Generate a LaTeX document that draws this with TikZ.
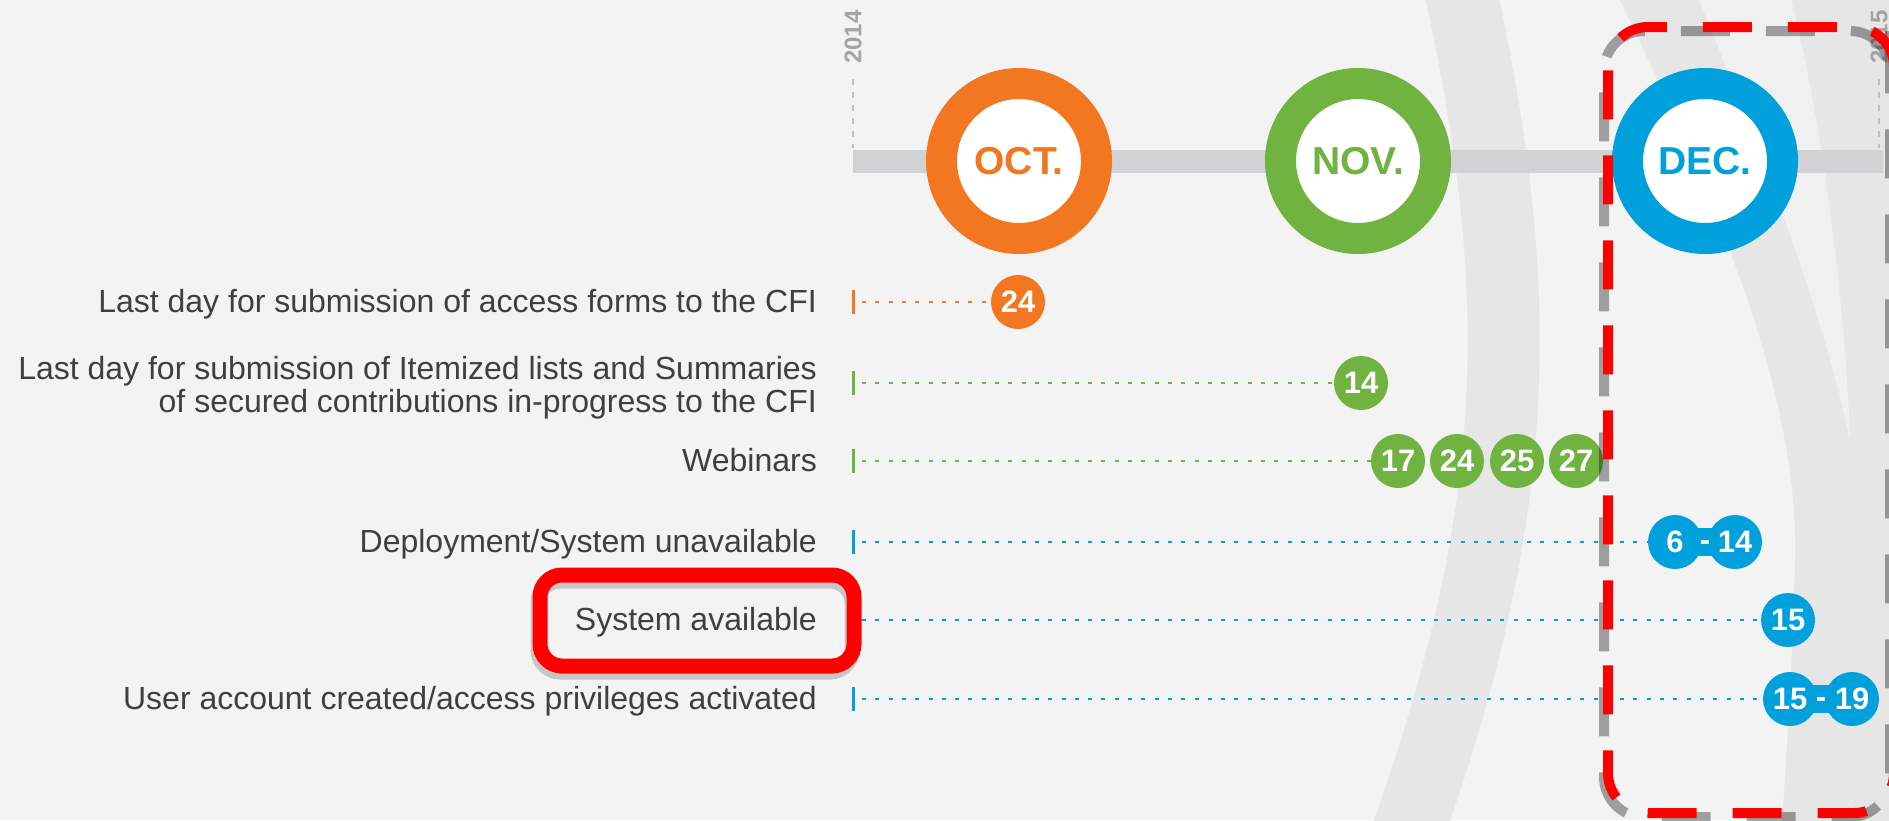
\documentclass[tikz,border=0pt]{standalone}
\usepackage{fontspec}
\setmainfont{Liberation Sans}
\usepackage{xcolor}
\usepackage{tikz}
\usetikzlibrary{backgrounds}
\definecolor{octorange}{HTML}{F37621}
\definecolor{novgreen}{HTML}{70B341}
\definecolor{decblue}{HTML}{00A0DC}
\definecolor{pagegray}{HTML}{F3F3F3}
\definecolor{bandgray}{HTML}{E6E6E7}
\definecolor{stripegray}{HTML}{F0F0F0}
\definecolor{linegray}{HTML}{D1D2D4}
\definecolor{yeargray}{HTML}{A3A3A3}
\definecolor{labelgray}{HTML}{3F3F3F}
\definecolor{markred}{HTML}{FF0000}
\tikzset{
  month ring/.style={
    circle,
    draw=#1,
    line width=31pt,
    fill=white,
    minimum size=155pt,
    inner sep=0pt,
    text=#1,
    font=\fontsize{39}{39}\selectfont\bfseries,
  },
  day badge/.style={
    circle,
    fill=#1,
    minimum size=54pt,
    inner sep=0pt,
    text=white,
    font=\fontsize{31}{31}\selectfont\bfseries,
  },
  badge neck/.style={
    draw=#1,
    line width=28pt,
  },
  range dash/.style={
    inner sep=0pt,
    text=white,
    font=\fontsize{31}{31}\selectfont\bfseries,
  },
  row label/.style={
    anchor=base east,
    inner sep=0pt,
    text=labelgray,
    font=\fontsize{32}{33}\selectfont,
  },
  row tick/.style={
    draw=#1,
    line width=3pt,
  },
  row dots/.style={
    draw=#1,
    line width=2.6pt,
    dash pattern=on 4pt off 9.3pt,
    shorten <=9pt,
  },
  year label/.style={
    rotate=90,
    inner sep=0pt,
    text=yeargray,
    font=\fontsize{24}{24}\selectfont\bfseries,
  },
  year line/.style={
    draw=yeargray!70,
    line width=2.5pt,
    dash pattern=on 6pt off 7pt,
  },
  red frame/.style={
    draw=markred,
    line width=15pt,
    rounded corners=22pt,
  },
  dash frame/.style={
    draw=markred,
    line width=10pt,
    rounded corners=40pt,
    dash pattern=on 49pt off 36pt,
    dash phase=50pt,
  },
}

\begin{document}
\begin{tikzpicture}[x=1pt, y=-1pt]
    \useasboundingbox (0,0) rectangle (1889,820);
    \clip (0,0) rectangle (1889,820);

    \begin{scope}[on background layer]
        \fill[pagegray] (0,0) rectangle (1889,820);
        \draw[line width=72pt, bandgray] (1458,-20) .. controls (1530,300) and (1520,520) .. (1405,840);
        \fill[bandgray] (1618,-5) .. controls (1700,170) and (1800,380) .. (1795,560)
            .. controls (1792,680) and (1786,760) .. (1782,825) -- (1895,825) -- (1895,-5) -- cycle;
        \fill[stripegray] (1697,-5) .. controls (1760,150) and (1820,300) .. (1850,440)
            .. controls (1845,300) and (1822,120) .. (1790,-5) -- cycle;
    \end{scope}

    \coordinate (tl-start) at (853,161);
    \coordinate (tl-end) at (1883,161);
    \draw[line width=23pt, linegray] (tl-start) -- (tl-end);

    \node[year label] (y2014) at (853,37) {2014};
    \node[year label] (y2015) at (1879,37) {2015};
    \draw[year line] ([yshift=-15pt]y2014.west) -- ++(0,69);
    \draw[year line] ([yshift=-15pt]y2015.west) -- ++(0,69);

    \node[month ring=octorange] (oct) at (1019,161) {OCT.};
    \node[month ring=novgreen] (nov) at (1358,161) {NOV.};
    \node[month ring=decblue] (dec) at (1705,161) {DEC.};

    \node[row label] (l1) at (817,312) {Last day for submission of access forms to the CFI};
    \node[row label, anchor=north east, align=right] (l2) at (817,356)
        {Last day for submission of Itemized lists and Summaries\\of secured contributions in-progress to the CFI};
    \node[row label] (l3) at (817,471) {Webinars};
    \node[row label] (l4) at (817,552) {Deployment/System unavailable};
    \node[row label] (l5) at (817,630) {System available};
    \node[row label] (l6) at (817,709) {User account created/access privileges activated};

    \foreach \name/\y/\c in {t1/302/octorange, t2/383/novgreen, t3/461/novgreen,
                              t4/542/decblue, t5/620/decblue, t6/699/decblue} {
        \coordinate (\name) at (853,\y);
        \draw[row tick=\c] (\name) ++(0,-12) -- ++(0,24);
    }

    \node[day badge=octorange] (oct24) at (1018,302) {24};
    \node[day badge=novgreen] (nov14) at (1361,383) {14};
    \foreach \d/\x in {17/1398, 24/1457, 25/1517, 27/1576}
        \node[day badge=novgreen] (nov\d) at (\x,461) {\d};
    \node[day badge=decblue] (dec6) at (1675,542) {6};
    \node[day badge=decblue] (dec14) at (1735,542) {14};
    \node[day badge=decblue] (dec15) at (1788,620) {15};
    \node[day badge=decblue] (dec15b) at (1790,699) {15};
    \node[day badge=decblue] (dec19) at (1852,699) {19};

    \begin{scope}[on background layer]
        \draw[badge neck=decblue] (dec6.center) -- (dec14.center);
        \draw[badge neck=decblue] (dec15b.center) -- (dec19.center);
    \end{scope}
    \node[range dash] (dash1) at (1705,545.6) {-};
    \node[range dash] (dash2) at (1821,702.6) {-};

    \draw[row dots=octorange] (t1) -- (oct24);
    \draw[row dots=novgreen] (t2) -- (nov14);
    \draw[row dots=novgreen] (t3) -- (nov17);
    \draw[row dots=decblue] (t4) -- (dec6);
    \draw[row dots=decblue] (t5) -- (dec15);
    \draw[row dots=decblue] (t6) -- (dec15b);

    \draw[red frame, draw=black, opacity=.18] (538,581) rectangle (852,672);
    \draw[red frame] (540,575) rectangle (854,666);

    \draw[dash frame, draw=black, opacity=.35, dash phase=32pt]
        (1890,71) -- (1890,31) -- (1604,31) -- (1604,817) -- (1890,817) -- cycle;
    \draw[dash frame] (1894,67) -- (1894,27) -- (1608,27) -- (1608,813) -- (1894,813) -- cycle;
\end{tikzpicture}
\end{document}
